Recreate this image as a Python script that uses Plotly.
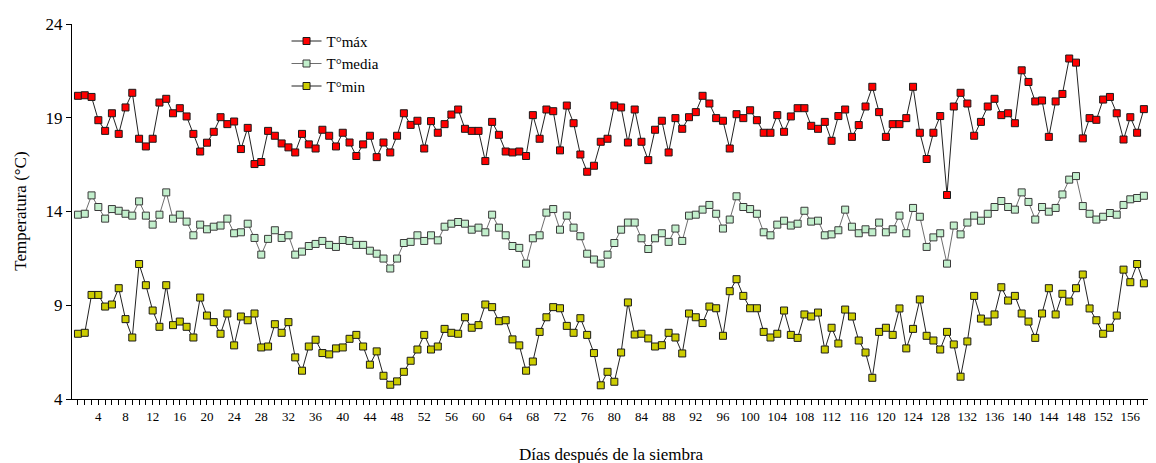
import plotly.graph_objects as go

days = list(range(1, 159))

t_max = [20.17, 20.2, 20.11, 18.87, 18.30, 19.24, 18.14, 19.55, 20.33, 17.88,
         17.47, 17.88, 19.81, 20.01, 19.24, 19.51, 19.07, 18.14, 17.20, 17.67,
         18.25, 19.03, 18.66, 18.80, 17.33, 18.46, 16.53, 16.64, 18.30, 18.04,
         17.63, 17.42, 17.15, 18.14, 17.58, 17.36, 18.36, 18.04, 17.47, 18.20,
         17.68, 16.96, 17.58, 18.04, 16.90, 17.68, 17.15, 18.04, 19.24, 18.62,
         18.84, 17.36, 18.82, 18.20, 18.66, 19.17, 19.44, 18.41, 18.30, 18.30,
         16.69, 18.78, 18.09, 17.20, 17.15, 17.20, 16.96, 19.14, 17.88, 19.44,
         19.35, 17.26, 19.65, 18.71, 17.04, 16.12, 16.44, 17.72, 17.88, 19.65,
         19.55, 17.68, 19.44, 17.72, 16.74, 18.36, 18.84, 17.15, 18.98, 18.41,
         19.03, 19.30, 20.17, 19.76, 18.98, 18.84, 17.36, 19.19, 18.98, 19.40,
         18.87, 18.20, 18.20, 19.14, 18.25, 19.07, 19.51, 19.51, 18.57, 18.41,
         18.78, 17.77, 19.09, 19.44, 17.98, 18.61, 19.60, 20.65, 19.30, 17.98,
         18.66, 18.66, 18.98, 20.65, 18.20, 16.80, 18.20, 19.09, 14.88, 19.60,
         20.33, 19.76, 18.04, 18.78, 19.60, 20.01, 19.14, 19.24, 18.71, 21.53,
         20.91, 19.87, 19.92, 17.98, 19.87, 20.27, 22.16, 21.94, 17.90, 18.98,
         18.89, 19.97, 20.11, 19.24, 17.84, 19.03, 18.20, 19.46]

t_media = [13.83, 13.88, 14.86, 14.24, 13.62, 14.13, 14.04, 13.88, 13.78, 14.54,
           13.78, 13.30, 13.83, 15.02, 13.62, 13.83, 13.46, 12.73, 13.30, 13.05,
           13.19, 13.25, 13.62, 12.84, 12.89, 13.35, 12.59, 11.70, 12.54, 13.00,
           12.59, 12.73, 11.70, 11.86, 12.16, 12.27, 12.43, 12.22, 12.11, 12.48,
           12.43, 12.22, 12.22, 11.91, 11.75, 11.49, 10.96, 11.49, 12.32, 12.38,
           12.73, 12.43, 12.73, 12.46, 13.19, 13.35, 13.44, 13.35, 13.03, 13.14,
           12.89, 13.83, 13.14, 12.73, 12.16, 12.06, 11.22, 12.57, 12.73, 13.94,
           14.13, 13.03, 13.78, 13.14, 12.68, 11.75, 11.44, 11.22, 11.70, 12.32,
           13.03, 13.41, 13.41, 12.57, 12.00, 12.57, 12.84, 12.38, 13.09, 12.43,
           13.78, 13.83, 14.10, 14.35, 13.88, 13.09, 13.57, 14.81, 14.24, 14.13,
           13.88, 12.89, 12.73, 13.30, 13.51, 13.25, 13.35, 14.04, 13.46, 13.51,
           12.73, 12.78, 13.00, 14.10, 13.19, 12.84, 13.05, 12.89, 13.41, 12.89,
           13.05, 13.78, 12.84, 14.19, 13.72, 12.11, 12.62, 12.84, 11.22, 13.25,
           12.78, 13.41, 13.78, 13.51, 13.88, 14.24, 14.56, 14.24, 14.10, 15.02,
           14.51, 13.57, 14.24, 13.99, 14.19, 14.91, 15.70, 15.89, 14.29, 13.88,
           13.57, 13.72, 13.92, 13.83, 14.35, 14.65, 14.72, 14.84]

t_min = [7.48, 7.53, 9.55, 9.55, 8.93, 9.04, 9.91, 8.26, 7.28, 11.20,
         10.07, 8.72, 7.85, 10.07, 7.94, 8.13, 7.85, 7.28, 9.41, 8.45,
         8.10, 7.48, 8.56, 6.86, 8.40, 8.20, 8.56, 6.75, 6.80, 7.99,
         7.53, 8.10, 6.22, 5.51, 6.80, 7.16, 6.45, 6.38, 6.70, 6.75,
         7.21, 7.42, 6.80, 5.83, 6.54, 5.24, 4.76, 4.94, 5.45, 6.04,
         6.64, 7.42, 6.64, 6.80, 7.74, 7.53, 7.48, 8.36, 7.80, 7.94,
         9.04, 8.90, 8.15, 8.20, 7.18, 6.86, 5.51, 6.00, 7.58, 8.36,
         8.90, 8.84, 7.90, 7.53, 8.31, 7.42, 6.45, 4.73, 5.45, 4.92,
         6.48, 9.15, 7.44, 7.48, 7.23, 6.80, 6.87, 7.53, 7.28, 6.43,
         8.56, 8.36, 8.05, 8.93, 8.84, 7.37, 9.75, 10.39, 9.50, 8.84,
         8.84, 7.58, 7.28, 7.48, 8.72, 7.42, 7.26, 8.51, 8.40, 8.61,
         6.64, 7.80, 6.96, 8.77, 8.40, 7.12, 6.48, 5.13, 7.58, 7.80,
         7.42, 8.83, 6.70, 7.74, 9.31, 7.37, 7.12, 6.64, 7.58, 6.91,
         5.19, 7.07, 9.50, 8.29, 8.13, 8.51, 9.96, 9.25, 9.50, 8.56,
         8.13, 7.26, 8.56, 9.91, 8.51, 9.61, 9.20, 9.91, 10.64, 8.83,
         8.20, 7.48, 7.80, 8.45, 10.90, 10.23, 11.20, 10.17]

y_ticks = [4, 9, 14, 19, 24]

SERIF = "Liberation Serif, Times New Roman, serif"

fig = go.Figure()

fig.add_trace(go.Scatter(
    x=days, y=t_max, name="T°máx", mode="lines+markers",
    line=dict(color="#222222", width=1),
    marker=dict(symbol="square", size=7, color="#ff0000",
                line=dict(color="#1a1a1a", width=1))))

fig.add_trace(go.Scatter(
    x=days, y=t_media, name="T°media", mode="lines+markers",
    line=dict(color="#6e6e6e", width=1),
    marker=dict(symbol="square", size=7, color="#c2efcc",
                line=dict(color="#3a3a3a", width=1))))

fig.add_trace(go.Scatter(
    x=days, y=t_min, name="T°min", mode="lines+markers",
    line=dict(color="#222222", width=1),
    marker=dict(symbol="square", size=7, color="#cccc00",
                line=dict(color="#1a1a1a", width=1))))

# page body has an 8px default margin, so the figure is sized 8px smaller
fig.update_layout(
    width=1148, height=455,
    margin=dict(l=64, r=6, t=16, b=64, autoexpand=False),
    paper_bgcolor="white", plot_bgcolor="white",
    font=dict(family=SERIF, color="black"),
    showlegend=True,
    legend=dict(x=0.199, y=0.998, xanchor="left", yanchor="top",
                bgcolor="rgba(0,0,0,0)", font=dict(family=SERIF, size=15),
                tracegroupgap=0),
    annotations=[
        dict(text="Días después de la siembra", xref="paper", yref="paper",
             x=0.5, y=-0.147, xanchor="center", yanchor="middle",
             showarrow=False, font=dict(family=SERIF, size=17, color="black")),
        dict(text="Temperatura (°C)", xref="paper", yref="paper",
             x=-0.048, y=0.5, xanchor="center", yanchor="middle",
             textangle=-90, showarrow=False,
             font=dict(family=SERIF, size=17, color="black")),
    ],
)

fig.update_xaxes(
    range=[0.12, 158.9],
    tickmode="linear", tick0=0, dtick=4,
    ticks="outside", ticklen=5, tickcolor="black",
    tickfont=dict(family=SERIF, size=13, color="black"),
    minor=dict(ticks="outside", ticklen=5, dtick=1, tick0=0, tickcolor="black"),
    showline=True, linecolor="black", linewidth=1,
    showgrid=False, zeroline=False, automargin=False,
)

fig.update_yaxes(
    range=[4, 24],
    tickmode="array", tickvals=y_ticks,
    ticks="outside", ticklen=5, tickcolor="black",
    tickfont=dict(family=SERIF, size=17, color="black"),
    showline=True, linecolor="black", linewidth=1,
    showgrid=False, zeroline=False, automargin=False,
)

fig.write_html("out.html")
